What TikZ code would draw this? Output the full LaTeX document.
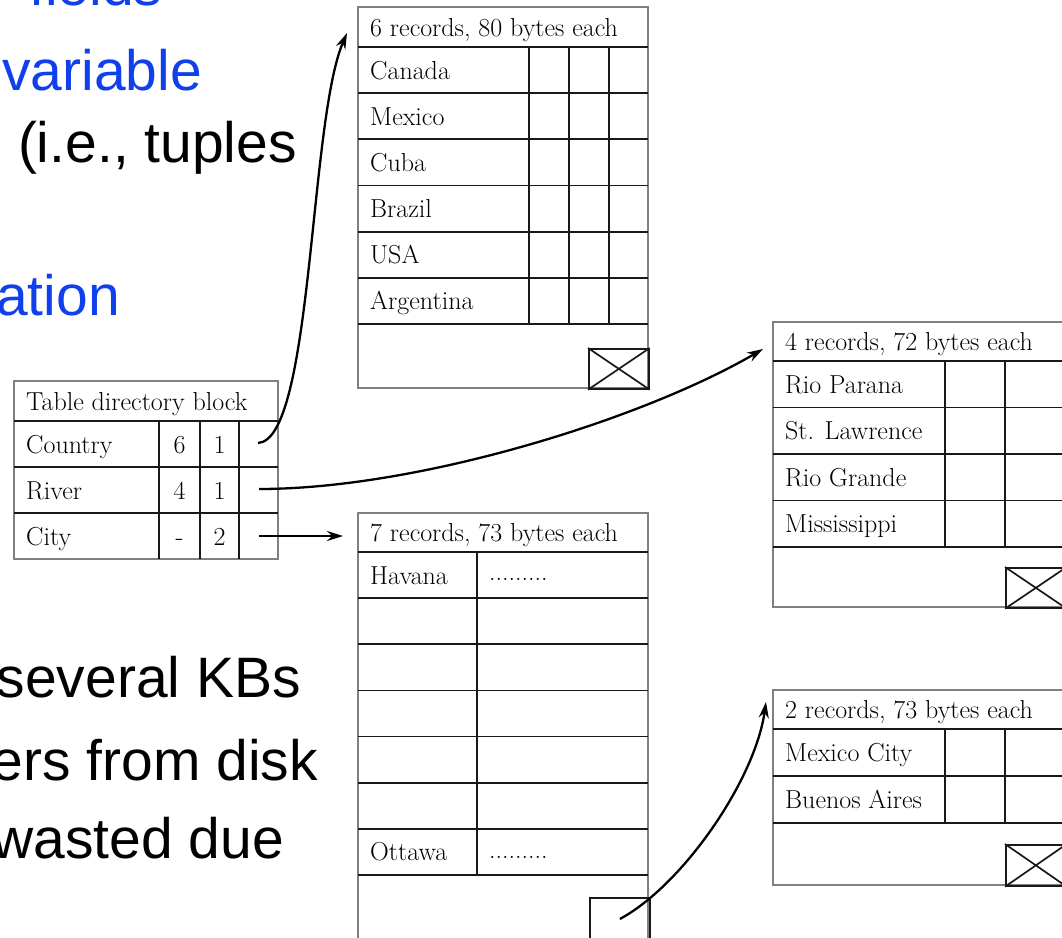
\documentclass[tikz,border=0pt]{standalone}
\usepackage{fontspec}
\newfontfamily\slidefont{Liberation Sans}
\usepackage{xcolor}
\usetikzlibrary{arrows.meta,positioning,calc}
\definecolor{slideblue}{RGB}{16,64,235}

\begin{document}
\begin{tikzpicture}[
    x=1pt, y=-1pt,
    slide/.style={anchor=base east, inner sep=0pt, font=\slidefont\fontsize{57}{60}\selectfont},
    hot/.style={slide, text=slideblue},
    cell/.style={anchor=west, inner xsep=12pt, inner ysep=0pt, text height=18pt, text depth=0pt,
                 font=\fontsize{26}{30}\selectfont},
    num/.style={cell, anchor=center, inner xsep=0pt},
    frame/.style={draw=black!50, line width=2.6pt},
    grid/.style={draw=black!90, line width=1.7pt},
    slot/.style={grid, rectangle, anchor=north west, inner sep=0pt, minimum width=60pt, minimum height=40pt},
    arrow/.style={-{Stealth[length=16pt,width=10pt]}, line width=2.3pt}
]
\useasboundingbox (0,0) rectangle (1062,937);
\clip (0,0) rectangle (1062,937);

% slide text, cut off on the left
\node[hot, anchor=base west] (fields) at (29,5) {fields};
\node[hot] (variable) at (202,90) {variable};
\node[slide] (tuples) at (297,162) {(i.e., tuples};
\node[hot] (ation) at (120,315) {ation};
\node[slide] (kbs) at (301,697) {several KBs};
\node[slide] (disk) at (318,780) {ers from disk};
\node[slide] (due) at (284,858) {wasted due};

% table directory block
\draw[frame] (14,381) rectangle (278,559);
\foreach \y in {421,467,513} \draw[grid] (14,\y) -- (278,\y);
\foreach \x in {159,200,239} \draw[grid] (\x,421) -- (\x,559);
\node[cell] (dirhdr) at (14,401) {Table directory block};
\node[cell] (country) at (14,444) {Country};
\node[cell] (river) at (14,490) {River};
\node[cell] (city) at (14,536) {City};
\node[num] (cntyn) at (179.5,444) {6};
\node[num] (cntyb) at (219.5,444) {1};
\node[num] (rivn) at (179.5,490) {4};
\node[num] (rivb) at (219.5,490) {1};
\node[num] (cityn) at (179.5,536) {-};
\node[num] (cityb) at (219.5,536) {2};
\coordinate (cntyptr) at (258,443);
\coordinate (rivptr) at (259,489);
\coordinate (cityptr) at (259,536);

% country block
\draw[frame] (358,7) rectangle (648,388);
\foreach \i in {0,...,6} \draw[grid] (358,47+46.17*\i) -- (648,47+46.17*\i);
\foreach \x in {529,569,609} \draw[grid] (\x,47) -- (\x,324);
\node[slot] (cntyslot) at (588,348) {};
\draw[grid] (cntyslot.north west) -- (cntyslot.south east) (cntyslot.south west) -- (cntyslot.north east);
\node[cell] (cntyhdr) at (358,27) {6 records, 80 bytes each};
\foreach \name [count=\i] in {Canada,Mexico,Cuba,Brazil,USA,Argentina}
  \node[cell] (cnty\i) at (358,47+46.17*\i-23.08) {\name};

% river block
\draw[frame] (773,322) rectangle (1065,607);
\foreach \i in {0,...,4} \draw[grid] (773,361+46.5*\i) -- (1065,361+46.5*\i);
\foreach \x in {945,1005} \draw[grid] (\x,361) -- (\x,547);
\node[slot] (rivslot) at (1005,567) {};
\draw[grid] (rivslot.north west) -- (rivslot.south east) (rivslot.south west) -- (rivslot.north east);
\node[cell] (rivhdr) at (773,341.5) {4 records, 72 bytes each};
\foreach \name [count=\i] in {Rio Parana,St. Lawrence,Rio Grande,Mississippi}
  \node[cell] (riv\i) at (773,361+46.5*\i-23.25) {\name};

% city block
\draw[frame] (358,513) rectangle (648,950);
\foreach \i in {0,...,7} \draw[grid] (358,552+46.14*\i) -- (648,552+46.14*\i);
\draw[grid] (477,552) -- (477,875);
\node[slot, minimum height=50pt] (cityslot) at (589,897) {};
\node[cell] (cityhdr) at (358,532.5) {7 records, 73 bytes each};
\node[cell] (havana) at (358,575) {Havana};
\node[cell] (havdots) at (477,571) {.........};
\node[cell] (ottawa) at (358,851.5) {Ottawa};
\node[cell] (ottdots) at (477,849) {.........};
\coordinate (slotptr) at ([yshift=-22pt]cityslot.north);

% overflow block
\draw[frame] (773,690) rectangle (1065,885);
\foreach \i in {0,...,2} \draw[grid] (773,729+47*\i) -- (1065,729+47*\i);
\foreach \x in {945,1005} \draw[grid] (\x,729) -- (\x,823);
\node[slot, minimum height=41pt] (ovfslot) at (1005,844) {};
\draw[grid] (ovfslot.north west) -- (ovfslot.south east) (ovfslot.south west) -- (ovfslot.north east);
\node[cell] (ovfhdr) at (773,709.5) {2 records, 73 bytes each};
\node[cell] (ovf1) at (773,752.5) {Mexico City};
\node[cell] (ovf2) at (773,799.5) {Buenos Aires};

% pointers
\draw[arrow] (cntyptr) .. controls +(55,-3) and +(-38,88) .. ([xshift=-11pt,yshift=-6pt]cntyhdr.west);
\draw[arrow] (rivptr) .. controls +(160,0) and +(-120,70) .. ([xshift=-10pt,yshift=-7.5pt]rivhdr.west);
\draw[arrow, shorten >=15pt] (cityptr) -- (cityptr -| cityhdr.west);
\draw[arrow] (slotptr) .. controls +(63,-34) and +(-11,78) .. ([xshift=-7pt,yshift=7.5pt]ovfhdr.west);
\end{tikzpicture}
\end{document}
